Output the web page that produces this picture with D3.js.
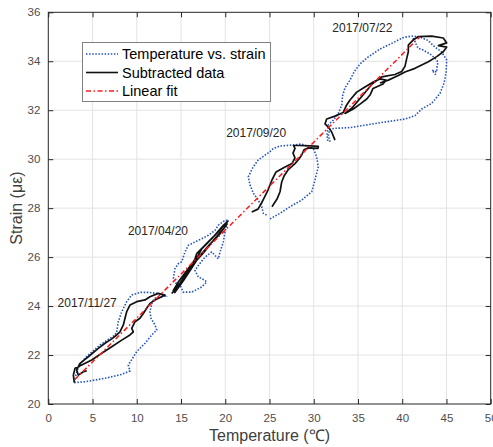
<!DOCTYPE html>
<html><head><meta charset="utf-8">
<script src="https://cdn.jsdelivr.net/npm/d3@7"></script>
<style>body{margin:0;background:#fff;} svg{display:block;font-family:"Liberation Sans",Arial,sans-serif;}</style>
</head><body><svg id="c" width="493" height="447"></svg>
<script>
// Tick labels
const xTicks = [0,5,10,15,20,25,30,35,40,45,50];
const yTicks = [20,22,24,26,28,30,32,34,36];
// Temperature vs. strain (raw, blue dotted) [T, strain]
const blueNov = [[2.94,20.87],[4.15,20.91],[6.41,21.05],[8.30,21.21],[9.23,21.35],[9.04,21.59],[9.99,22.14],[10.93,22.48],[11.69,22.82],[12.25,23.02],[12.06,23.23],[11.61,23.5],[11.49,23.77],[11.75,24.18],[12.06,24.32],[13.19,24.41],[12.25,24.52],[11.3,24.56],[10.36,24.56],[9.43,24.45],[8.86,24.18],[8.30,23.77],[7.91,23.36],[7.73,22.95],[7.54,22.82],[5.84,22.41],[4.15,21.88],[3.36,21.47],[3.13,21.2],[2.94,20.87]];
const blueApr = [[14.13,25.12],[14.32,25.53],[14.69,25.73],[15.08,25.81],[15.45,26.21],[15.82,26.48],[16.58,26.62],[17.34,26.75],[18.08,26.89],[18.84,27.09],[19.21,27.30],[19.78,27.46],[20.16,27.50],[20.16,27.30],[19.97,27.03],[19.78,26.62],[19.41,26.21],[19.21,25.93],[18.47,26.21],[17.71,26.0],[16.95,25.66],[16.58,25.46],[16.95,25.19],[17.71,25.05],[17.9,24.98],[17.34,24.78],[16.21,24.57],[15.26,24.57],[14.88,24.86],[14.43,24.94],[14.13,25.12]];
const blueSep = [[25.06,27.56],[26.19,27.79],[27.32,28.06],[28.64,28.33],[29.77,28.67],[30.14,29.15],[30.51,29.69],[30.33,30.10],[29.95,30.44],[28.64,30.62],[27.69,30.58],[26.19,30.54],[25.43,30.44],[25.06,30.31],[23.73,29.97],[23.17,29.69],[22.6,29.28],[22.8,28.95],[23.17,28.61],[23.73,28.33],[24.12,28.06],[24.3,27.79],[24.83,27.68]];
const blueJul = [[31.84,30.71],[31.65,30.99],[31.84,31.23],[32.4,31.26],[34.1,31.29],[35.99,31.40],[38.25,31.53],[40.31,31.64],[41.45,31.78],[42.2,32.05],[43.33,32.28],[44.27,32.69],[44.72,33.10],[44.95,33.52],[45.03,34.05],[44.46,34.38],[43.7,34.58],[42.91,34.85],[42.01,34.99],[41.07,35.03],[40.12,34.97],[38.81,34.73],[37.49,34.50],[36.13,34.17],[35.23,33.89],[34.55,33.56],[34.10,33.23],[33.53,32.91],[33.25,32.58],[33.16,32.21],[32.78,31.87],[32.21,31.60],[31.65,31.40],[31.5,31.0],[31.6,30.7]];
const blueJulInner = [[41.22,34.95],[41.78,34.54],[42.35,34.46],[43.14,34.30],[43.7,34.13],[44.04,33.97],[43.93,33.77],[43.9,33.56],[43.37,33.64],[43.9,33.4]];
// Subtracted data (black solid)
const blackNov = [[2.94,20.87],[2.83,21.18],[3.02,21.46],[3.77,21.59],[4.91,21.80],[6.04,22.07],[7.17,22.34],[8.30,22.61],[9.23,22.82],[9.61,22.95],[9.43,23.09],[9.80,23.36],[10.36,23.50],[10.74,23.70],[11.12,23.91],[11.49,24.11],[12.06,24.25],[12.82,24.38],[13.19,24.45],[12.43,24.52],[11.49,24.38],[10.93,24.25],[9.99,24.18],[9.23,24.04],[8.86,23.77],[8.67,23.50],[8.48,23.23],[8.10,22.95],[7.73,22.82],[7.17,22.66],[6.41,22.48],[5.65,22.27],[4.52,21.93],[3.58,21.66],[3.21,21.39],[3.39,21.18],[3.96,21.32],[4.34,21.35]];
const blackApr = [[13.95,24.51],[14.89,24.94],[15.82,25.43],[16.58,25.93],[16.77,26.14],[18.08,26.62],[19.21,27.03],[20.16,27.43],[20.31,27.47],[19.78,27.30],[18.47,26.75],[17.34,26.34],[16.95,26.07],[15.82,25.53],[14.69,24.98],[14.13,24.64],[14.3,24.55],[15.3,25.05],[16.3,25.6],[17.0,26.0],[18.2,26.5],[19.4,26.95],[20.2,27.35],[19.9,27.2],[18.8,26.75],[17.6,26.2],[16.6,25.8],[15.4,25.2],[14.4,24.7]];
const blackSep = [[22.99,27.84],[23.70,27.96],[24.04,28.17],[24.38,28.41],[24.83,28.74],[25.28,29.15],[25.74,29.48],[26.75,29.68],[27.54,29.82],[27.88,30.05],[27.66,30.25],[27.88,30.44],[27.71,30.56],[28.45,30.56],[29.58,30.54],[30.52,30.52],[30.48,30.44],[29.35,30.46],[28.90,30.38],[28.64,30.17],[28.33,30.01],[27.88,29.82],[27.09,29.56],[26.64,29.31],[26.38,29.07],[26.19,28.67],[25.85,28.37],[25.28,28.06]];
const blackJul = [[32.4,30.78],[32.03,31.11],[31.65,31.31],[31.27,31.44],[31.46,31.64],[32.4,31.76],[33.34,31.91],[33.65,32.17],[34.1,32.42],[34.86,32.74],[35.79,32.95],[36.73,33.15],[37.49,33.28],[38.17,33.23],[37.83,33.07],[36.70,32.89],[36.36,32.62],[35.99,32.46],[35.23,32.25],[34.47,32.05],[33.53,31.87],[34.32,32.09],[35.0,32.38],[35.57,32.62],[36.59,33.07],[37.68,33.36],[39.18,33.46],[39.94,33.58],[40.31,33.79],[40.51,34.12],[40.69,34.39],[40.69,34.66],[41.25,34.87],[41.82,35.01],[43.33,35.03],[44.64,34.95],[45.03,34.75],[44.08,34.64],[45.03,34.58],[44.64,34.39],[43.9,34.19],[42.95,33.98],[42.2,33.85],[41.44,33.71],[40.31,33.56],[39.56,33.42],[38.43,33.23],[37.49,33.11]];
// Linear fit endpoints
const fitT = [3, 42];
const fitS = [21.0, 35.0];
// Date annotations
const labels = ["2017/07/22","2017/09/20","2017/04/20","2017/11/27"];
const labelPos = [[32.1,35.2],[20.1,30.92],[9.0,26.92],[1.05,23.97]];
const legendNames = ["Temperature vs. strain","Subtracted data","Linear fit"];

const svg = d3.select("#c");
const m = {l:48.3, r:490.7, t:12.3, b:404};
const x = d3.scaleLinear().domain([0,50]).range([m.l,m.r]);
const y = d3.scaleLinear().domain([20,36]).range([m.b,m.t]);

// grid
svg.append("g").selectAll("line").data(xTicks.slice(1,-1)).join("line")
  .attr("x1",d=>x(d)).attr("x2",d=>x(d)).attr("y1",m.t).attr("y2",m.b)
  .attr("stroke","#e3e3e3").attr("stroke-width",1);
svg.append("g").selectAll("line").data(yTicks.slice(1,-1)).join("line")
  .attr("y1",d=>y(d)).attr("y2",d=>y(d)).attr("x1",m.l).attr("x2",m.r)
  .attr("stroke","#e3e3e3").attr("stroke-width",1);

// axes
const axCol = "#262626";
function styleAxis(g){
  g.select(".domain").remove();
  g.selectAll("line").attr("stroke",axCol);
  g.selectAll("text").attr("fill","#4d4d4d").attr("font-size","11.5px");
}
svg.append("g").attr("transform",`translate(0,${m.b})`)
  .call(d3.axisBottom(x).tickValues(xTicks).tickSize(-5).tickPadding(10)).call(styleAxis);
svg.append("g").attr("transform",`translate(${m.l},0)`)
  .call(d3.axisLeft(y).tickValues(yTicks).tickSize(-5).tickPadding(8)).call(styleAxis);
svg.append("g").attr("transform",`translate(0,${m.t})`)
  .call(d3.axisTop(x).tickValues(xTicks).tickSize(-5).tickFormat("")).call(styleAxis);
svg.append("g").attr("transform",`translate(${m.r},0)`)
  .call(d3.axisRight(y).tickValues(yTicks).tickSize(-5).tickFormat("")).call(styleAxis);
svg.append("rect").attr("x",m.l).attr("y",m.t).attr("width",m.r-m.l).attr("height",m.b-m.t)
  .attr("fill","none").attr("stroke",axCol).attr("stroke-width",1);

const line = d3.line().x(d=>x(d[0])).y(d=>y(d[1]));
const blue = "#2352bd";
const blueDash = "1.5,1.6";
[blueNov,blueApr,blueSep,blueJul,blueJulInner].forEach(s=>{
  svg.append("path").datum(s).attr("d",line).attr("fill","none")
    .attr("stroke",blue).attr("stroke-width",1.6).attr("stroke-dasharray",blueDash);
});
[blackNov,blackApr,blackSep,blackJul].forEach(s=>{
  svg.append("path").datum(s).attr("d",line).attr("fill","none")
    .attr("stroke","#111").attr("stroke-width",1.7).attr("stroke-linejoin","round");
});
svg.append("path").datum(fitT.map((t,i)=>[t,fitS[i]])).attr("d",line).attr("fill","none")
  .attr("stroke","#ff1a1a").attr("stroke-width",1.5).attr("stroke-dasharray","5,2.5,1.5,2.5");

// annotations
svg.append("g").selectAll("text").data(labels).join("text")
  .attr("x",(d,i)=>x(labelPos[i][0])).attr("y",(d,i)=>y(labelPos[i][1]))
  .attr("font-size","12px").attr("fill","#262626").text(d=>d);

// legend
const lg = svg.append("g");
lg.append("rect").attr("x",82.5).attr("y",42.5).attr("width",188).attr("height",59)
  .attr("fill","#fff").attr("stroke","#808080").attr("stroke-width",1);
const lstyles = [{c:blue,d:blueDash},{c:"#111",d:null},{c:"#ff1a1a",d:"5,2.5,1.5,2.5"}];
legendNames.forEach((n,i)=>{
  const yy = 54 + i*18.5;
  const l = lg.append("line").attr("x1",86).attr("x2",118).attr("y1",yy).attr("y2",yy)
    .attr("stroke",lstyles[i].c).attr("stroke-width",1.6);
  if(lstyles[i].d) l.attr("stroke-dasharray",lstyles[i].d);
  lg.append("text").attr("x",122).attr("y",yy+5).attr("font-size","14.5px").attr("fill","#000").text(n);
});

// axis titles
svg.append("text").attr("x",269.5).attr("y",441).attr("text-anchor","middle")
  .attr("font-size","16px").attr("fill","#404040").text("Temperature (℃)");
svg.append("text").attr("transform","translate(22,208) rotate(-90)").attr("text-anchor","middle")
  .attr("font-size","16px").attr("fill","#404040").text("Strain (με)");
</script></body></html>
